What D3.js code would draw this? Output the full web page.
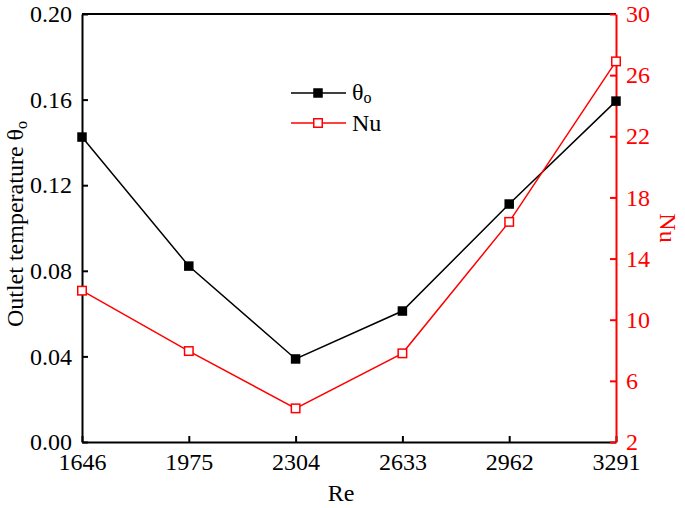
<!DOCTYPE html>
<html>
<head>
<meta charset="utf-8">
<script src="https://d3js.org/d3.v7.min.js"></script>
<style>
  body { margin: 0; background: #fff; }
  text { font-family: "Liberation Serif", "Times New Roman", serif; }
</style>
</head>
<body>
<script>
const reLabels = ["1646", "1975", "2304", "2633", "2962", "3291"];
const thetaValues = [0.1425, 0.0822, 0.0388, 0.0612, 0.1112, 0.1593];
const nuValues = [11.9, 7.95, 4.2, 7.8, 16.4, 26.9];
const leftTicks = [0, 0.04, 0.08, 0.12, 0.16, 0.20];
const rightTicks = [2, 6, 10, 14, 18, 22, 26, 30];

const w = 685, h = 508;
const margin = { left: 82, right: 69, top: 14, bottom: 66 };
const fs = "24px";

const svg = d3.select("body").append("svg").attr("width", w).attr("height", h);

const x = d3.scalePoint().domain(reLabels).range([margin.left, w - margin.right]);
const yL = d3.scaleLinear().domain([0, 0.2]).range([h - margin.bottom, margin.top]);
const yR = d3.scaleLinear().domain([2, 30]).range([h - margin.bottom, margin.top]);

// top border
svg.append("line")
  .attr("x1", margin.left).attr("x2", w - margin.right)
  .attr("y1", margin.top).attr("y2", margin.top)
  .attr("stroke", "#000").attr("stroke-width", 2);

const xAxis = svg.append("g")
  .attr("transform", "translate(0," + (h - margin.bottom) + ")")
  .call(d3.axisBottom(x).tickSizeInner(-6).tickSizeOuter(0).tickPadding(11));

const leftAxis = svg.append("g")
  .attr("transform", "translate(" + margin.left + ",0)")
  .call(d3.axisLeft(yL).tickValues(leftTicks).tickFormat(d3.format(".2f")).tickSizeInner(-6).tickSizeOuter(0).tickPadding(10));

const rightAxis = svg.append("g")
  .attr("transform", "translate(" + (w - margin.right) + ",0)")
  .call(d3.axisRight(yR).tickValues(rightTicks).tickSizeInner(-6).tickSizeOuter(0).tickPadding(10));

[xAxis, leftAxis].forEach(g => {
  g.selectAll("path, line").attr("stroke", "#000").attr("stroke-width", 2);
  g.selectAll("text").attr("fill", "#000").style("font-size", fs);
});
rightAxis.selectAll("path, line").attr("stroke", "red").attr("stroke-width", 2);
rightAxis.selectAll("text").attr("fill", "red").style("font-size", fs);

// lines
const lineTheta = d3.line().x((d, i) => x(reLabels[i])).y(d => yL(d));
const lineNu = d3.line().x((d, i) => x(reLabels[i])).y(d => yR(d));

svg.append("path").datum(thetaValues).attr("d", lineTheta)
  .attr("fill", "none").attr("stroke", "#000").attr("stroke-width", 1.5);
svg.append("path").datum(nuValues).attr("d", lineNu)
  .attr("fill", "none").attr("stroke", "red").attr("stroke-width", 1.5);

const ms = 9.5;
svg.selectAll(".mt").data(thetaValues).enter().append("rect")
  .attr("x", (d, i) => x(reLabels[i]) - ms / 2).attr("y", d => yL(d) - ms / 2)
  .attr("width", ms).attr("height", ms).attr("fill", "#000");
svg.selectAll(".mn").data(nuValues).enter().append("rect")
  .attr("x", (d, i) => x(reLabels[i]) - ms / 2 + 0.5).attr("y", d => yR(d) - ms / 2 + 0.5)
  .attr("width", ms - 1).attr("height", ms - 1).attr("fill", "#fff")
  .attr("stroke", "red").attr("stroke-width", 1.5);

// axis titles
svg.append("text").attr("x", 341).attr("y", 501).attr("text-anchor", "middle")
  .style("font-size", fs).text("Re");

const lt = svg.append("text").attr("transform", "translate(23,224) rotate(-90)")
  .attr("text-anchor", "middle").style("font-size", fs);
lt.append("tspan").text("Outlet temperature θ");
lt.append("tspan").attr("dy", 4).style("font-size", "16px").text("o");

svg.append("text").attr("transform", "translate(660,228) rotate(90)")
  .attr("text-anchor", "middle").attr("fill", "red").style("font-size", fs).text("Nu");

// legend
const lg = svg.append("g");
lg.append("line").attr("x1", 291).attr("x2", 346).attr("y1", 93).attr("y2", 93)
  .attr("stroke", "#000").attr("stroke-width", 1.5);
lg.append("rect").attr("x", 318 - ms / 2).attr("y", 93 - ms / 2).attr("width", ms).attr("height", ms).attr("fill", "#000");
const l1 = lg.append("text").attr("x", 352).attr("y", 100).style("font-size", fs);
l1.append("tspan").text("θ");
l1.append("tspan").attr("dy", 3).style("font-size", "16px").text("o");

lg.append("line").attr("x1", 291).attr("x2", 346).attr("y1", 123).attr("y2", 123)
  .attr("stroke", "red").attr("stroke-width", 1.5);
lg.append("rect").attr("x", 318 - ms / 2 + 0.5).attr("y", 123 - ms / 2 + 0.5).attr("width", ms - 1).attr("height", ms - 1)
  .attr("fill", "#fff").attr("stroke", "red").attr("stroke-width", 1.5);
lg.append("text").attr("x", 352).attr("y", 131).style("font-size", fs).text("Nu");
</script>
</body>
</html>
